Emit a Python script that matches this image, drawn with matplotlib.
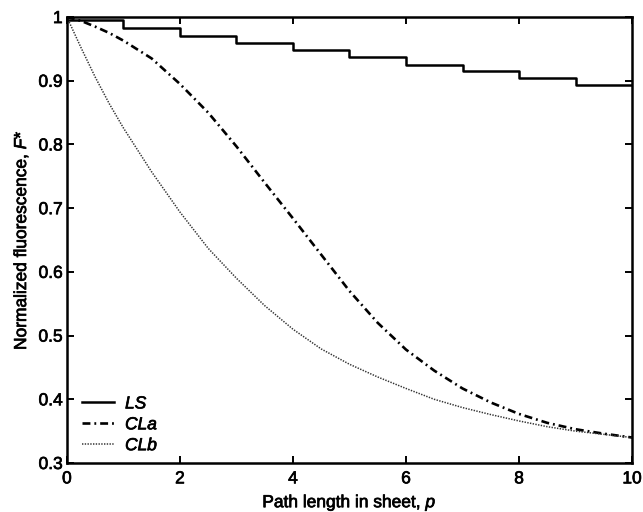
import matplotlib
matplotlib.use("Agg")
import matplotlib.pyplot as plt
import matplotlib.patheffects as pe

plt.rcParams['font.family'] = ['Liberation Sans', 'DejaVu Sans']
plt.rcParams['mathtext.fontset'] = 'custom'
plt.rcParams['mathtext.rm'] = 'Liberation Sans'
plt.rcParams['mathtext.it'] = 'Liberation Sans:italic'

# LS - step curve, one value per unit of path length
ls_x = [0, 1, 2, 3, 4, 5, 6, 7, 8, 9, 10]
ls_y = [0.995, 0.983, 0.971, 0.959, 0.948, 0.937, 0.925, 0.915, 0.904, 0.893, 0.893]

# CLa
cla_x = [0, 0.25, 0.5, 0.75, 1, 1.5, 2, 2.5, 3, 3.5, 4, 4.5, 5, 5.5, 6, 6.5,
         7, 7.5, 8, 8.5, 9, 9.5, 10]
cla_y = [1.0, 0.994, 0.985, 0.975, 0.963, 0.935, 0.895, 0.850, 0.797, 0.740,
         0.684, 0.627, 0.570, 0.520, 0.478, 0.445, 0.417, 0.395, 0.377, 0.363,
         0.353, 0.346, 0.340]

# CLb
clb_x = [0, 0.25, 0.5, 0.75, 1, 1.5, 2, 2.5, 3, 3.5, 4, 4.5, 5, 5.5, 6, 6.5,
         7, 7.5, 8, 8.5, 9, 9.5, 10]
clb_y = [1.0, 0.952, 0.906, 0.864, 0.826, 0.757, 0.694, 0.637, 0.590, 0.547,
         0.510, 0.479, 0.455, 0.435, 0.417, 0.400, 0.387, 0.376, 0.366, 0.357,
         0.350, 0.345, 0.340]

xticks = [0, 2, 4, 6, 8, 10]
yticks = [0.3, 0.4, 0.5, 0.6, 0.7, 0.8, 0.9, 1.0]
ytick_labels = ['0.3', '0.4', '0.5', '0.6', '0.7', '0.8', '0.9', '1']

# slightly heavier text, like the scanned original
bold_ish = [pe.withStroke(linewidth=0.5, foreground='black')]

fig = plt.figure(figsize=(6.43, 5.12), dpi=100)
ax = fig.add_axes([0.104, 0.0957, 0.879, 0.871])

ax.plot(ls_x, ls_y, drawstyle='steps-post', color='black', lw=1.8, label='LS')
ax.plot(cla_x, cla_y, color='black', lw=1.9, dashes=(3, 1.5, 0.7, 1.5), label='CLa')
ax.plot(clb_x, clb_y, color='#333333', lw=1.1, dashes=(0.9, 0.9), label='CLb')

ax.set_xlim(0, 10)
ax.set_ylim(0.3, 1.0)
ax.set_xticks(xticks)
ax.set_xticklabels([str(t) for t in xticks])
ax.set_yticks(yticks)
ax.set_yticklabels(ytick_labels)
ax.tick_params(direction='in', length=5, width=1.4, top=True, right=True,
               labelsize=12.5)
ax.tick_params(axis='x', pad=6)
ax.tick_params(axis='y', pad=3)
for s in ax.spines.values():
    s.set_linewidth(1.8)

ax.set_xlabel('Path length in sheet, $p$', fontsize=12.5, labelpad=5)
ax.set_ylabel('Normalized fluorescence, $F$*', fontsize=12.5, labelpad=6)

leg = ax.legend(loc='lower left', bbox_to_anchor=(0.0, -0.013), frameon=False,
                handlelength=1.8, handletextpad=0.65, labelspacing=0.33,
                borderaxespad=0.5, prop={'style': 'italic', 'size': 12.5})

for t in ax.get_xticklabels() + ax.get_yticklabels() + leg.get_texts():
    t.set_path_effects(bold_ish)
ax.xaxis.label.set_path_effects(bold_ish)
ax.yaxis.label.set_path_effects(bold_ish)

fig.savefig('out.png', dpi=100)
